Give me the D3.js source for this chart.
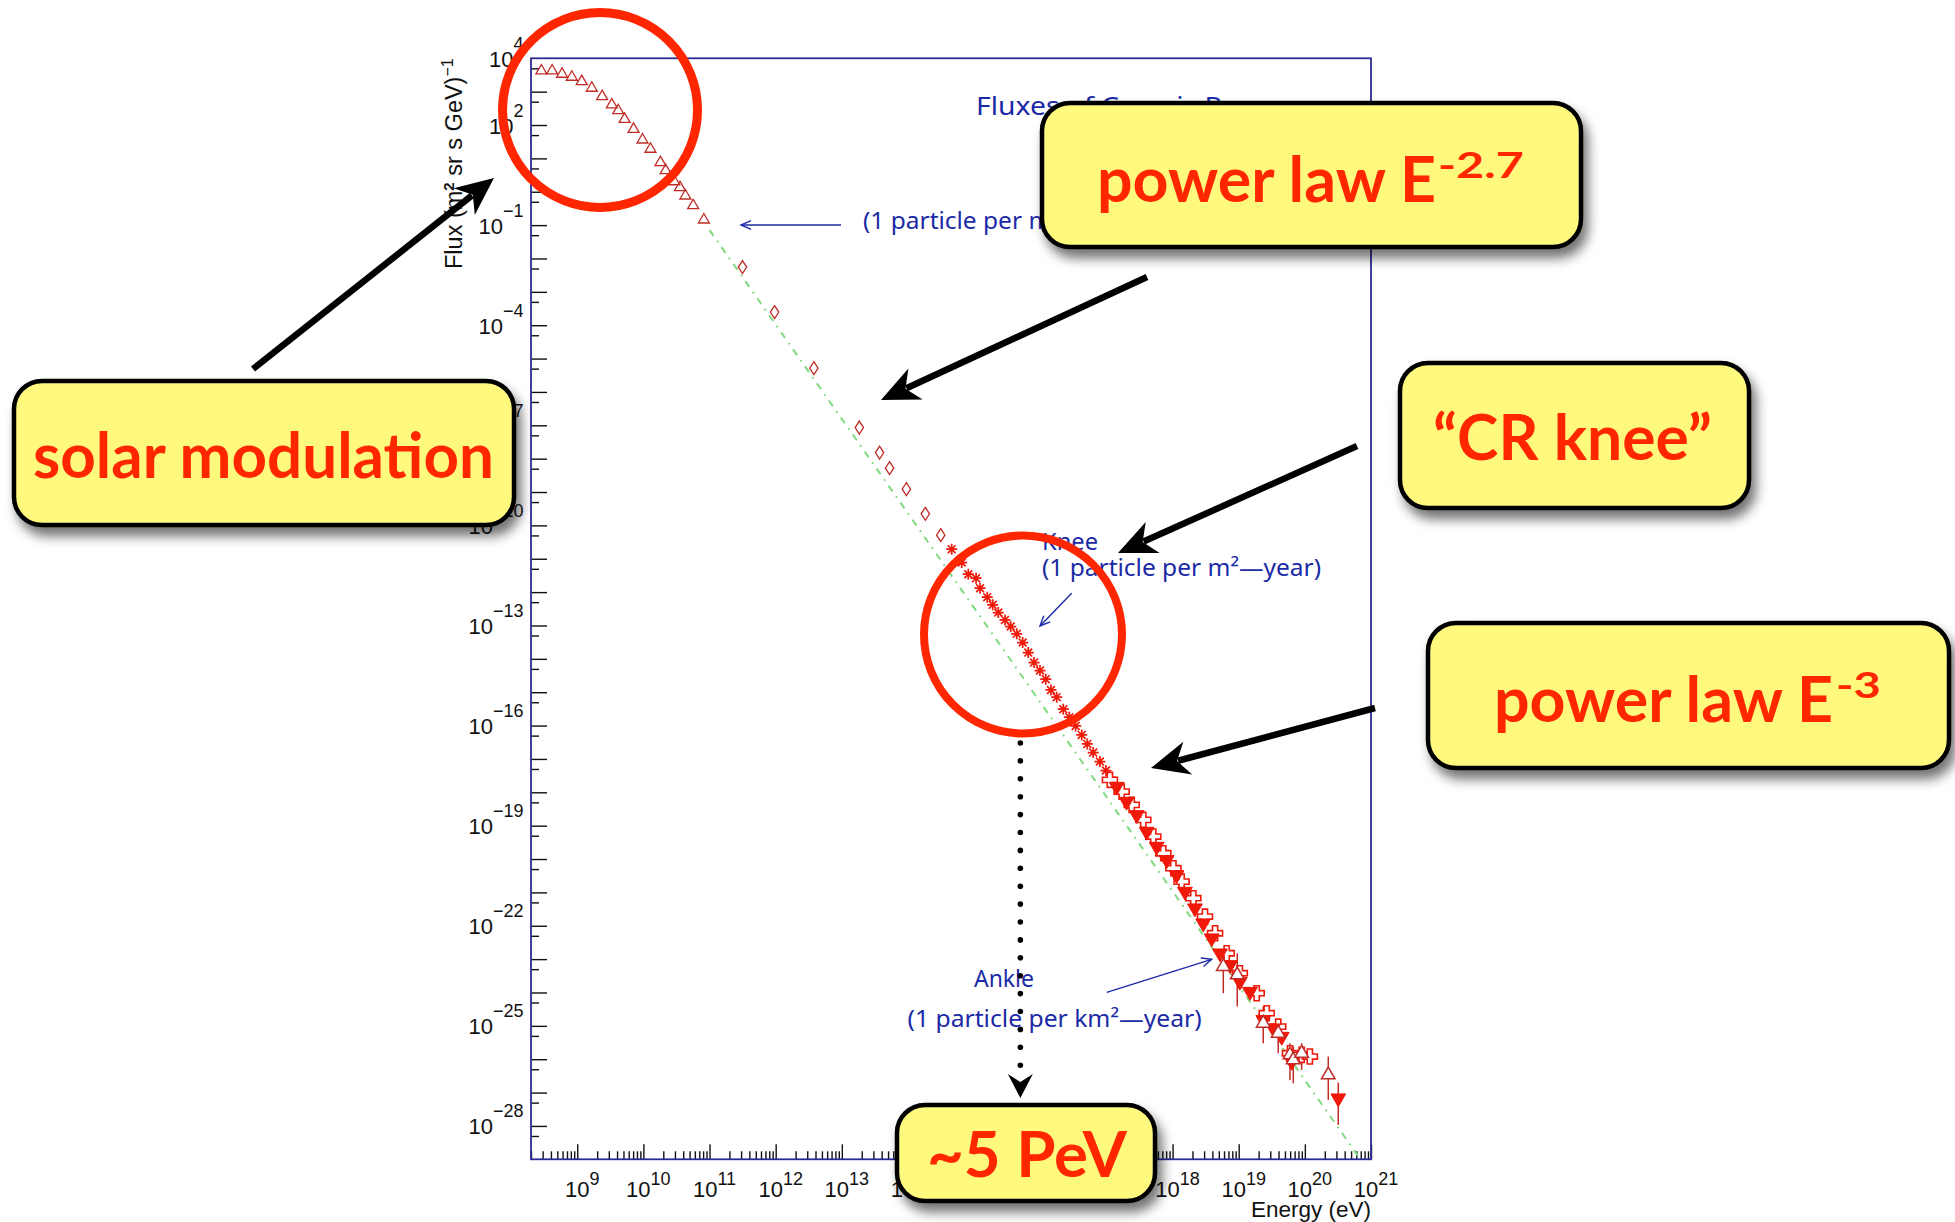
<!DOCTYPE html>
<html>
<head>
<meta charset="utf-8">
<script src="https://cdn.jsdelivr.net/npm/d3@7"></script>
<style>
  html, body { margin: 0; padding: 0; background: #fff; }
  svg { display: block; }
</style>
</head>
<body>
<svg id="chart" width="1955" height="1222"></svg>
<script>
// ---- Cosmic ray all-particle spectrum: energy (eV) vs flux (m^2 sr s GeV)^-1 ----

// Axis ranges
const energyRange = [2e8, 1e21];
const fluxRange = [1e-29, 1e4];

// Tick label exponents
const xLabelExps = [9, 10, 11, 12, 13, 14, 15, 16, 17, 18, 19, 20, 21];
const yLabelExps = [4, 2, -1, -4, -7, -10, -13, -16, -19, -22, -25, -28];

// Low-energy direct measurements (open triangles)
const lowEnergyTriangles = [
  [2.87e8, 4.22e3], [4.17e8, 4.22e3], [5.90e8, 3.36e3], [8.28e8, 2.73e3],
  [1.17e9, 2.02e3], [1.66e9, 1.28e3], [2.38e9, 716], [3.33e9, 404],
  [4.16e9, 272], [5.20e9, 150], [7.11e9, 75.3], [9.70e9, 36.0],
  [1.28e10, 19.0], [1.81e10, 7.52], [2.17e10, 4.33], [2.93e10, 2.02],
  [3.57e10, 1.34], [4.32e10, 0.755], [5.66e10, 0.386], [8.22e10, 0.144]
];

// Balloon / satellite measurements (open diamonds)
const directDiamonds = [
  [3.15e11, 5.51e-3], [9.64e11, 2.47e-4], [3.78e12, 5.16e-6], [1.84e13, 8.57e-8],
  [3.72e13, 1.52e-8], [5.27e13, 5.20e-9], [9.46e13, 1.22e-9], [1.83e14, 2.22e-10],
  [3.13e14, 5.09e-11]
];

// Air-shower arrays around the knee (asterisks)
const kneeAsterisks = [
  [4.58e14, 1.94e-11], [6.49e14, 7.69e-12], [8.17e14, 3.45e-12], [1.07e15, 2.62e-12],
  [1.23e15, 1.31e-12], [1.58e15, 7.06e-13], [1.91e15, 4.15e-13], [2.32e15, 2.44e-13],
  [2.93e15, 1.47e-13], [3.57e15, 9.29e-14], [4.41e15, 5.61e-14], [5.42e15, 3.08e-14],
  [6.59e15, 1.54e-14], [8.04e15, 7.73e-15], [9.91e15, 4.46e-15], [1.21e16, 2.46e-15],
  [1.45e16, 1.17e-15], [1.77e16, 7.10e-16], [2.23e16, 3.10e-16], [2.75e16, 1.79e-16],
  [3.43e16, 9.79e-17], [4.23e16, 5.26e-17], [5.14e16, 2.82e-17], [6.32e16, 1.55e-17],
  [7.98e16, 8.34e-18], [9.84e16, 4.48e-18], [1.20e17, 2.24e-18]
];

// Ultra-high-energy data (open crosses)
const uheCrosses = [
  [1.13e17, 2.36e-18], [1.70e17, 1.05e-18], [2.41e17, 4.20e-19], [3.61e17, 1.49e-19],
  [5.11e17, 4.71e-20], [7.24e17, 1.49e-20], [1.03e18, 5.31e-21], [1.37e18, 2.10e-21],
  [2.06e18, 6.70e-22], [3.09e18, 1.88e-22], [4.39e18, 5.97e-23], [6.58e18, 1.50e-23],
  [1.04e19, 3.78e-24], [1.87e19, 9.51e-25], [2.65e19, 2.39e-25], [3.96e19, 9.48e-26],
  [5.96e19, 1.51e-26], [8.95e19, 1.35e-26], [1.19e20, 1.20e-26]
];

// Ultra-high-energy data (filled down triangles): energy, flux, low, high
const uheFilled = [
  [1.43e17, 1.48e-18], [2.02e17, 5.27e-19], [2.87e17, 2.10e-19], [4.06e17, 6.64e-20],
  [5.75e17, 2.36e-20], [8.15e17, 9.42e-21], [1.15e18, 3.34e-21], [1.54e18, 1.06e-21],
  [2.18e18, 3.36e-22], [2.91e18, 1.19e-22], [3.90e18, 4.24e-23], [5.21e18, 1.50e-23],
  [7.38e18, 6.70e-24], [1.04e19, 2.12e-24], [1.48e19, 1.06e-24], [2.35e19, 1.51e-25],
  [3.33e19, 8.49e-26], [4.47e19, 4.75e-26], [6.32e19, 8.47e-27],
  [3.20e20, 6.78e-28, 1.07e-28, 2.0e-27]
];

// Ultra-high-energy data with error bars (open up triangles): energy, flux, low, high
const uheOpenErr = [
  [5.85e18, 5.97e-24, 9.5e-25, 1.9e-23], [9.51e18, 3.37e-24, 3.8e-25, 1.5e-23],
  [2.35e19, 1.20e-25, 3.0e-26, 3.8e-25], [3.96e19, 6.01e-26, 1.5e-26, 1.5e-25],
  [5.96e19, 1.35e-26, 2.4e-27, 3.0e-26], [6.68e19, 9.53e-27, 1.9e-27, 2.4e-26],
  [8.95e19, 1.51e-26, 4.8e-27, 3.0e-26], [2.26e20, 3.38e-27, 6.0e-28, 1.2e-26]
];

// Single power-law reference line (end points)
const powerLawLine = [[1e11, 7.1e-2], [6.9e20, 1e-29]];

// Knee energy marked below the spectrum
const kneeEnergy = 5e15;

// ---------------------------------------------------------------------------
const svg = d3.select("#chart");
svg.append("rect").attr("width", 1955).attr("height", 1222).attr("fill", "#fff");

const frame = { left: 531, right: 1371, top: 58.3, bottom: 1159.3 };
const x = d3.scaleLog().domain(energyRange).range([frame.left, frame.right]);
const y = d3.scaleLog().domain(fluxRange).range([frame.bottom, frame.top]);

const defs = svg.append("defs");
const shadow = defs.append("filter").attr("id", "boxShadow")
  .attr("x", "-10%").attr("y", "-20%").attr("width", "125%").attr("height", "150%");
shadow.append("feDropShadow").attr("dx", 5).attr("dy", 9)
  .attr("stdDeviation", 6).attr("flood-color", "#000").attr("flood-opacity", 0.55);

const plot = svg.append("g");

// ---- axes ----
const xMajor = xLabelExps.map(e => Math.pow(10, e));
const xMinor = [];
for (let e = 8; e <= 20; e++) {
  for (let m = 2; m <= 9; m++) {
    const v = m * Math.pow(10, e);
    if (v >= energyRange[0] && v <= energyRange[1]) xMinor.push(v);
  }
}
const yMajor = d3.range(-28, 4).map(e => Math.pow(10, e));
const yMinor = d3.range(-29, 4).map(e => 5 * Math.pow(10, e));

function styleAxis(g) {
  g.select(".domain").remove();
  g.selectAll(".tick line").attr("stroke", "#111").attr("stroke-width", 1.4);
  g.selectAll(".tick text").remove();
}

plot.append("g").attr("transform", `translate(0,${frame.bottom})`)
  .call(d3.axisBottom(x).tickValues(xMajor).tickSize(-15).tickFormat(""))
  .call(styleAxis);
plot.append("g").attr("transform", `translate(0,${frame.bottom})`)
  .call(d3.axisBottom(x).tickValues(xMinor).tickSize(-8).tickFormat(""))
  .call(styleAxis);
plot.append("g").attr("transform", `translate(${frame.left},0)`)
  .call(d3.axisLeft(y).tickValues(yMajor).tickSize(-16).tickFormat(""))
  .call(styleAxis);
plot.append("g").attr("transform", `translate(${frame.left},0)`)
  .call(d3.axisLeft(y).tickValues(yMinor).tickSize(-8).tickFormat(""))
  .call(styleAxis);

// frame
plot.append("rect")
  .attr("x", frame.left).attr("y", frame.top)
  .attr("width", frame.right - frame.left).attr("height", frame.bottom - frame.top)
  .attr("fill", "none").attr("stroke", "#2b2b96").attr("stroke-width", 1.8);

const expText = e => (e < 0 ? "\u2212" + (-e) : String(e));

// x tick labels
xLabelExps.forEach(e => {
  const t = plot.append("text")
    .attr("x", x(Math.pow(10, e)) + 5).attr("y", 1196.5)
    .attr("text-anchor", "middle")
    .attr("font-family", "'Liberation Sans', Arial, sans-serif")
    .attr("font-size", 22).attr("fill", "#111");
  t.append("tspan").text("10");
  t.append("tspan").attr("dy", -12).attr("font-size", 18).text(expText(e));
});

// y tick labels
yLabelExps.forEach(e => {
  const t = plot.append("text")
    .attr("x", 523.5).attr("y", y(Math.pow(10, e)) + 8.5)
    .attr("text-anchor", "end")
    .attr("font-family", "'Liberation Sans', Arial, sans-serif")
    .attr("font-size", 22).attr("fill", "#111");
  t.append("tspan").text("10");
  t.append("tspan").attr("dy", -17).attr("font-size", 18).text(expText(e));
});

// axis titles
plot.append("text")
  .attr("x", frame.right).attr("y", 1216.5)
  .attr("text-anchor", "end")
  .attr("font-family", "'Liberation Sans', Arial, sans-serif")
  .attr("font-size", 22.5).attr("fill", "#111")
  .text("Energy (eV)");

const yTitle = plot.append("text")
  .attr("transform", `translate(462,${frame.top}) rotate(-90)`)
  .attr("text-anchor", "end")
  .attr("font-family", "'Liberation Sans', Arial, sans-serif")
  .attr("font-size", 23.5).attr("fill", "#111");
yTitle.append("tspan").text("Flux (m");
yTitle.append("tspan").attr("dy", -8).attr("font-size", 15).attr("font-weight", "bold").text("2");
yTitle.append("tspan").attr("dy", 8).text(" sr s GeV)");
yTitle.append("tspan").attr("dy", -9).attr("font-size", 16).text("\u22121");

// ---- power-law reference line ----
plot.append("path")
  .datum(powerLawLine)
  .attr("d", d3.line().x(d => x(d[0])).y(d => y(d[1])))
  .attr("fill", "none").attr("stroke", "#7fd97f").attr("stroke-width", 2)
  .attr("stroke-dasharray", "7,6,1.8,6");

// ---- data markers ----
const darkRed = "#bf2b26";
const red = "#f01808";

const diamondPath = "M0,-6.5L4.2,0L0,6.5L-4.2,0Z";
const asteriskPath = "M-5.5,0H5.5M0,-5.5V5.5M-3.9,-3.9L3.9,3.9M-3.9,3.9L3.9,-3.9";
const crossPath = "M-2.6,-7.5H2.6V-2.6H7.5V2.6H2.6V7.5H-2.6V2.6H-7.5V-2.6H-2.6Z";
const triUp = d3.symbol(d3.symbolTriangle, 52)();
const triUpErr = d3.symbol(d3.symbolTriangle, 80)();
const triDown = d3.symbol(d3.symbolTriangle, 95)();

function markers(data, path, opts) {
  plot.append("g").selectAll("path").data(data).join("path")
    .attr("d", path)
    .attr("transform", d => `translate(${x(d[0])},${y(d[1])})${opts.rotate ? " rotate(180)" : ""}`)
    .attr("fill", opts.fill || "none")
    .attr("stroke", opts.stroke || "none")
    .attr("stroke-width", opts.width || 1.3);
}

function errorBars(data, color) {
  plot.append("g").selectAll("line").data(data.filter(d => d.length > 2)).join("line")
    .attr("x1", d => x(d[0])).attr("x2", d => x(d[0]))
    .attr("y1", d => y(d[2])).attr("y2", d => y(d[3]))
    .attr("stroke", color).attr("stroke-width", 1.5);
}

markers(lowEnergyTriangles, triUp, { stroke: darkRed, width: 1.3 });
markers(directDiamonds, diamondPath, { stroke: darkRed, width: 1.3 });
markers(kneeAsterisks, asteriskPath, { stroke: red, width: 1.7 });
errorBars(uheOpenErr, darkRed);
errorBars(uheFilled, darkRed);
markers(uheCrosses, crossPath, { stroke: red, width: 1.6, fill: "#fff" });
markers(uheFilled, triDown, { fill: red, stroke: red, width: 1, rotate: true });
markers(uheOpenErr, triUpErr, { stroke: darkRed, width: 1.5, fill: "#fff" });

// ---- ROOT-style annotations ----
const blue = "#1b2aa6";
const blueFont = "'Noto Sans', 'DejaVu Sans', sans-serif";

function blueText(str, px, py, size, len) {
  const t = plot.append("text").attr("x", px).attr("y", py)
    .attr("font-family", blueFont).attr("font-size", size).attr("fill", blue)
    .text(str);
  if (len) t.attr("textLength", len).attr("lengthAdjust", "spacingAndGlyphs");
  return t;
}

function blueArrow(x1, y1, x2, y2) {
  const a = Math.atan2(y2 - y1, x2 - x1);
  const hl = 11, ha = 0.42;
  const g = plot.append("g").attr("stroke", blue).attr("stroke-width", 1.4).attr("fill", "none");
  g.append("line").attr("x1", x1).attr("y1", y1).attr("x2", x2).attr("y2", y2);
  g.append("path").attr("d",
    `M${x2 - hl * Math.cos(a - ha)},${y2 - hl * Math.sin(a - ha)}L${x2},${y2}L${x2 - hl * Math.cos(a + ha)},${y2 - hl * Math.sin(a + ha)}`);
}

blueText("Fluxes of Cosmic Rays", 976, 115, 26, 290);
blueText("(1 particle per m\u00b2\u2014second)", 863, 229, 23.5, 311);
blueArrow(841, 225, 741, 225);

blueText("Knee", 1042, 550, 23.5, 56);
blueText("(1 particle per m\u00b2\u2014year)", 1042, 576, 23.5, 279);
blueArrow(1071.7, 593.3, 1040, 626);

blueText("Ankle", 974, 986.7, 23.5, 60);
blueText("(1 particle per km\u00b2\u2014year)", 907.6, 1026.7, 23.5, 294);
blueArrow(1106.7, 992.3, 1211.7, 959.3);

// ---- slide overlays: highlight circles, arrows and callouts ----
const overlay = svg.append("g");
const calloutRed = "#ff2600";

overlay.append("circle").attr("cx", 600).attr("cy", 110).attr("r", 97.5)
  .attr("fill", "none").attr("stroke", calloutRed).attr("stroke-width", 9);
overlay.append("circle").attr("cx", 1023).attr("cy", 634.5).attr("r", 99)
  .attr("fill", "none").attr("stroke", calloutRed).attr("stroke-width", 8);

function blackArrow(x1, y1, x2, y2) {
  const len = Math.hypot(x2 - x1, y2 - y1);
  const ux = (x2 - x1) / len, uy = (y2 - y1) / len;
  const px = -uy, py = ux;
  const L = 38, Wd = 17, notch = 27;
  overlay.append("line")
    .attr("x1", x1).attr("y1", y1)
    .attr("x2", x2 - ux * (notch + 1)).attr("y2", y2 - uy * (notch + 1))
    .attr("stroke", "#000").attr("stroke-width", 6.5);
  overlay.append("path").attr("fill", "#000").attr("d",
    `M${x2},${y2}` +
    `L${x2 - ux * L + px * Wd},${y2 - uy * L + py * Wd}` +
    `L${x2 - ux * notch},${y2 - uy * notch}` +
    `L${x2 - ux * L - px * Wd},${y2 - uy * L - py * Wd}Z`);
}

blackArrow(253, 369, 494, 178);
blackArrow(1147, 277, 881, 400);
blackArrow(1357, 446, 1118, 553);
blackArrow(1375, 708, 1151, 768);

// dotted drop line at the knee energy
const kneeX = x(kneeEnergy);
const dotYs = d3.range(19).map(i => 743 + i * 17.9);
overlay.append("g").selectAll("circle").data(dotYs).join("circle")
  .attr("cx", kneeX).attr("cy", d => d).attr("r", 2.8).attr("fill", "#000");
overlay.append("path").attr("fill", "#000").attr("d",
  `M${kneeX},1098L${kneeX - 12.5},1074L${kneeX},1082L${kneeX + 12.5},1074Z`);

// callout boxes
const callouts = [
  { x: 14, y: 381, w: 500, h: 144, label: "solar modulation", tx: 33, ty: 478, tw: 461 },
  { x: 1042, y: 103, w: 539, h: 144, label: "power law E", tx: 1097, ty: 201.7, tw: 339,
    sup: "-2.7", sx: 1438, sy: 178, sw: 86 },
  { x: 1400, y: 363, w: 349, h: 145, label: "\u201cCR knee\u201d", tx: 1433, ty: 460, tw: 279 },
  { x: 1428, y: 623, w: 521, h: 145, label: "power law E", tx: 1494, ty: 721.7, tw: 339,
    sup: "-3", sx: 1836, sy: 698, sw: 45 },
  { x: 897, y: 1105, w: 258, h: 96, label: "~5 PeV", tx: 927, ty: 1176.7, tw: 200 }
];

const calloutFont = "Lato, 'Noto Sans', sans-serif";
callouts.forEach(c => {
  const g = overlay.append("g");
  g.append("rect").attr("x", c.x).attr("y", c.y).attr("width", c.w).attr("height", c.h)
    .attr("rx", 28).attr("ry", 28)
    .attr("fill", "#fffa7e").attr("stroke", "#000").attr("stroke-width", 4.5)
    .attr("filter", "url(#boxShadow)");
  g.append("text").attr("x", c.tx).attr("y", c.ty)
    .attr("font-family", calloutFont).attr("font-weight", "bold")
    .attr("font-size", 63).attr("fill", calloutRed)
    .attr("textLength", c.tw).attr("lengthAdjust", "spacingAndGlyphs")
    .text(c.label);
  if (c.sup) {
    g.append("text").attr("x", c.sx).attr("y", c.sy)
      .attr("font-family", calloutFont).attr("font-weight", "bold")
      .attr("font-size", 36).attr("fill", calloutRed)
      .attr("textLength", c.sw).attr("lengthAdjust", "spacingAndGlyphs")
      .text(c.sup);
  }
});
</script>
</body>
</html>
